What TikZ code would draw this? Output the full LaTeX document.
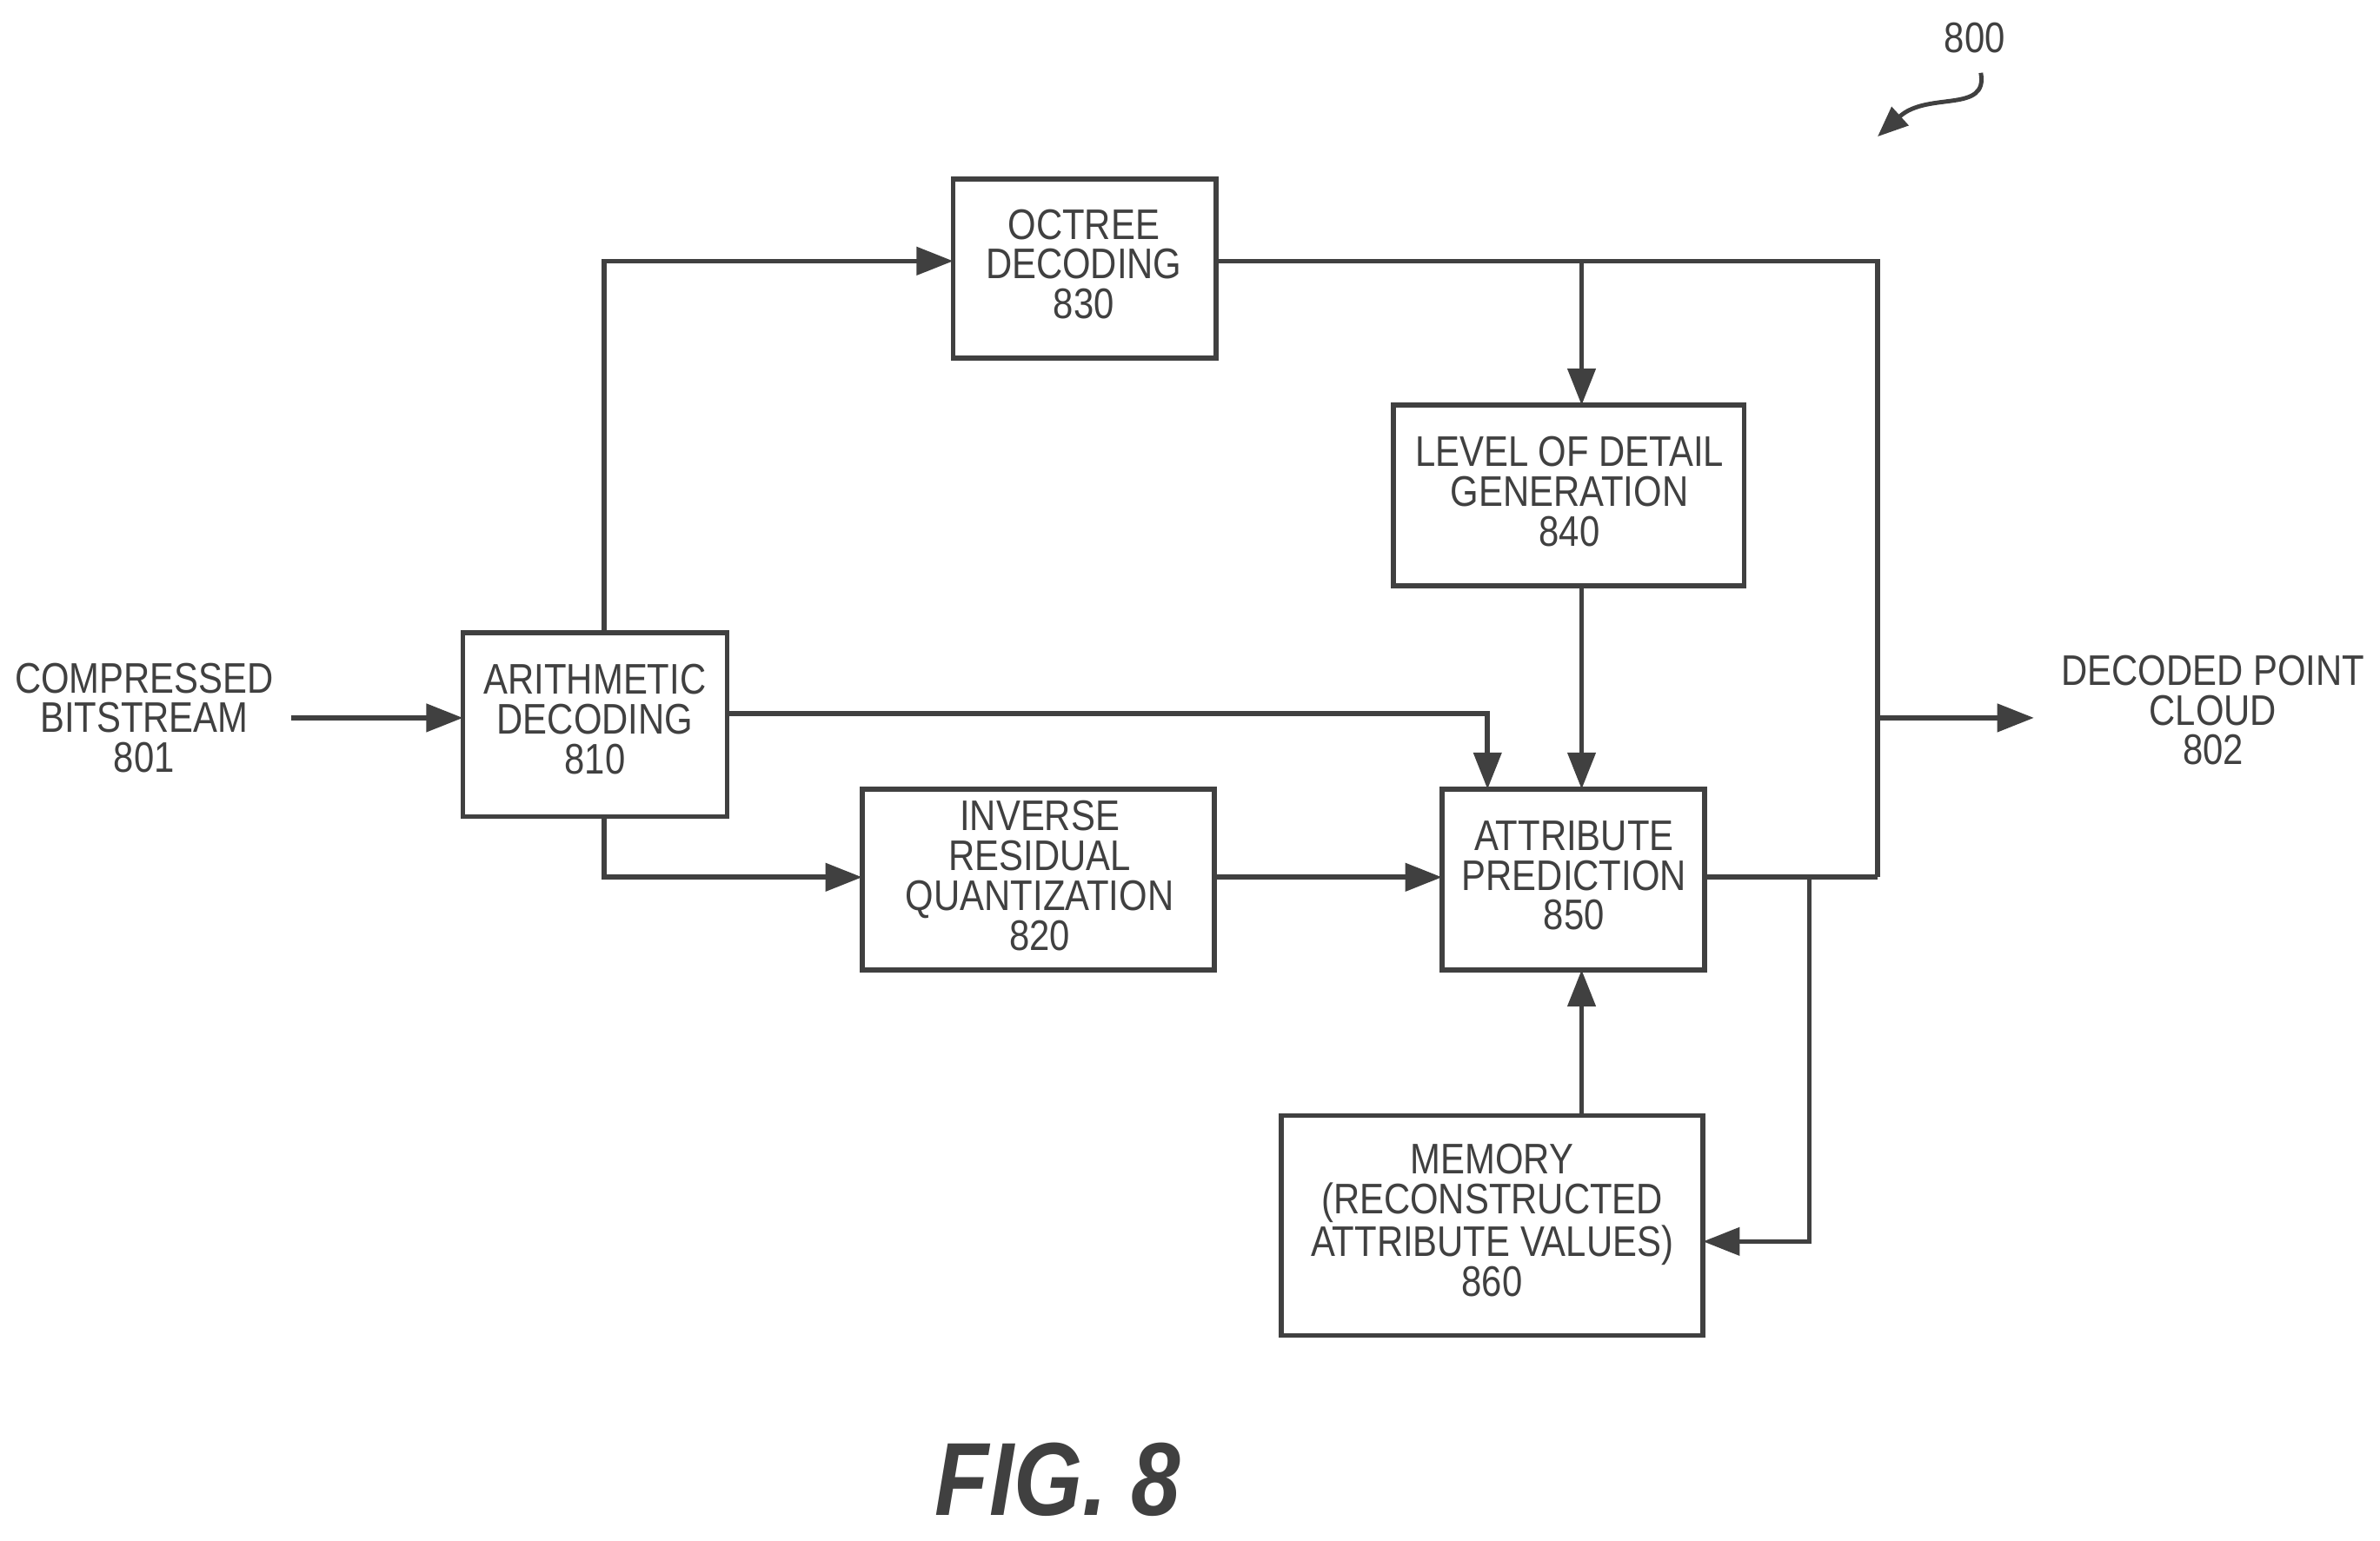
\documentclass[tikz,border=0pt]{standalone}
\usepackage{fontspec}
\setmainfont[FakeStretch=0.85]{Liberation Sans}
\usetikzlibrary{arrows.meta}
\definecolor{ink}{HTML}{404040}
\tikzset{
  lbl/.style={align=center},
  flow/.style={draw=ink, line width=1.6pt, -{Triangle[length=12pt,width=9pt]}},
  line/.style={draw=ink, line width=1.6pt}
}
\begin{document}
\begin{tikzpicture}[x=0.01746cm, y=-0.01746cm, font=\fontsize{14pt}{13pt}\selectfont, text=ink]
	\useasboundingbox (0,0) rectangle (1568,1015);
	% blocks
	\draw[line] (305,417) rectangle (479,538);
	\node[lbl] (arithT) at (392,474) {ARITHMETIC\\DECODING\\810};
	\coordinate (arithL) at (305,473);
	\draw[line] (628,118) rectangle (801,236);
	\node[lbl] (octT) at (714,174) {OCTREE\\DECODING\\830};
	\draw[line] (918,267) rectangle (1149,386);
	\node[lbl] (lodT) at (1034,324) {LEVEL OF DETAIL\\GENERATION\\840};
	\draw[line] (568,520) rectangle (800,639);
	\node[lbl] (irqT) at (685,577) {INVERSE\\RESIDUAL\\QUANTIZATION\\820};
	\draw[line] (950,520) rectangle (1123,639);
	\node[lbl] (attT) at (1037,577) {ATTRIBUTE\\PREDICTION\\850};
	\draw[line] (844,735) rectangle (1122,880);
	\node[lbl] (memT) at (983,804) {MEMORY\\(RECONSTRUCTED\\ATTRIBUTE VALUES)\\860};
	% input and output
	\node[lbl] (inT) at (95,473) {COMPRESSED\\BITSTREAM\\801};
	\node[lbl] (outT) at (1458,468) {DECODED POINT\\CLOUD\\802};
	\coordinate (inS) at (192,473);
	\coordinate (outE) at (1340,473);
	\coordinate (jR) at (1237,473);
	% connectors
	\draw[flow] (inS) -- (arithL);
	\draw[flow] (398,417) -- (398,172) -- (628,172);
	\draw[line] (801,172) -- (1237,172) -- (1237,578);
	\draw[flow] (1042,172) -- (1042,267);
	\draw[flow] (1042,386) -- (1042,520);
	\draw[flow] (479,470) -- (980,470) -- (980,520);
	\draw[flow] (398,538) -- (398,578) -- (568,578);
	\draw[flow] (800,578) -- (950,578);
	\draw[line] (1123,578) -- (1237,578);
	\draw[flow] (jR) -- (outE);
	\draw[flow] (1192,578) -- (1192,818) -- (1122,818);
	\draw[flow] (1042,735) -- (1042,639);
	% reference numeral
	\node (ref) at (1301,25) {800};
	\draw[draw=ink, line width=1.4pt, -{Triangle[length=10pt,width=8pt]}] (1305,48) .. controls (1310,75) and (1270,60) .. (1237,90);
	\node[font=\fontsize{34pt}{34pt}\bfseries\itshape] (fig) at (697,975) {FIG. 8};
\end{tikzpicture}
\end{document}
